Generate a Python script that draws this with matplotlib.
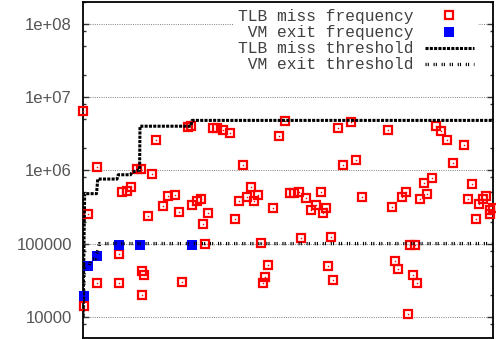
import matplotlib
matplotlib.use("Agg")
import matplotlib.pyplot as plt
from matplotlib.ticker import FixedLocator, LogLocator, NullFormatter

# sample position (0-100) and measured frequency per sample
tlb_x = [0.1, 0.3, 1.3, 3.3, 3.5, 8.8, 8.8, 9.5, 10.7, 11.8,
         13.2, 14.1, 14.3, 14.9, 14.3, 15.9, 16.8, 17.9, 19.5, 20.7,
         22.4, 23.4, 24.1, 25.6, 26.4, 26.7, 27.7, 28.7, 29.3, 29.8,
         30.4, 31.7, 32.7, 34.1, 35.9, 37.1, 38.0, 39.1, 40.0, 41.0,
         41.8, 42.8, 43.4, 44.0, 44.4, 45.2, 46.3, 47.9, 49.3, 50.5,
         51.5, 52.7, 53.2, 54.4, 55.6, 56.8, 58.0, 58.6, 59.3, 59.8,
         60.4, 60.9, 62.3, 63.5, 65.4, 66.6, 68.0, 74.5, 75.4, 76.1,
         76.8, 77.8, 78.8, 79.3, 79.8, 81.0, 80.5, 81.5, 82.2, 83.2,
         84.0, 85.0, 86.1, 87.2, 88.9, 90.2, 92.9, 94.0, 94.9, 95.9,
         96.6, 97.6, 98.3, 99.3, 99.3, 100.0]
tlb_freq = [6.5e6, 1.4e4, 2.5e5, 1.1e6, 2.9e4, 7.3e4, 2.9e4, 5.1e5, 5.2e5, 6.0e5,
            1.05e6, 1.05e6, 4.2e4, 3.7e4, 2.0e4, 2.4e5, 9.0e5, 2.6e6, 3.3e5, 4.5e5,
            4.6e5, 2.7e5, 3.0e4, 3.9e6, 4.0e6, 3.4e5, 3.8e5, 4.1e5, 1.85e5, 1.0e5,
            2.6e5, 3.8e6, 3.8e6, 3.5e6, 3.2e6, 2.2e5, 3.8e5, 1.2e6, 4.3e5, 5.9e5,
            3.8e5, 4.6e5, 1.03e5, 2.9e4, 3.5e4, 5.1e4, 3.1e5, 2.9e6, 4.7e6, 4.9e5,
            4.9e5, 5.0e5, 1.2e5, 4.2e5, 2.9e5, 3.4e5, 5.1e5, 2.6e5, 3.1e5, 5.0e4,
            1.24e5, 3.2e4, 3.8e6, 1.2e6, 4.6e6, 1.4e6, 4.3e5, 3.5e6, 3.2e5, 5.8e4,
            4.5e4, 4.3e5, 5.1e5, 1.1e4, 9.6e4, 9.6e4, 3.7e4, 2.9e4, 4.0e5, 6.8e5,
            4.8e5, 7.9e5, 4.0e6, 3.4e6, 2.6e6, 1.27e6, 2.2e6, 4.0e5, 6.6e5, 2.2e5,
            3.5e5, 4.0e5, 4.5e5, 2.9e5, 2.5e5, 3.1e5]

vm_x = [0.2, 1.3, 3.3, 8.8, 14.0, 26.6]
vm_freq = [1.9e4, 4.9e4, 6.8e4, 9.6e4, 9.6e4, 9.6e4]

tlb_thr_x = [0.0, 0.4, 3.3, 3.6, 8.3, 8.6, 11.6, 11.9, 13.4, 13.8, 13.9, 26.3, 26.6, 100.0]
tlb_thr = [1.0e4, 4.8e5, 4.8e5, 7.6e5, 7.6e5, 8.7e5, 8.7e5, 9.4e5, 1.0e6, 1.0e6,
           4.0e6, 4.0e6, 4.8e6, 4.8e6]

vm_thr_x = [0.0, 0.4, 1.5, 2.0, 3.0, 3.2, 3.8, 4.0, 100.0]
vm_thr = [1.0e4, 5.0e4, 5.0e4, 6.2e4, 6.2e4, 7.0e4, 8.5e4, 1.0e5, 1.0e5]

ytick_vals = [1e4, 1e5, 1e6, 1e7, 1e8]
ytick_labels = ["10000", "100000", "1e+06", "1e+07", "1e+08"]

series_labels = ["TLB miss frequency", " VM exit frequency",
                 "TLB miss threshold", " VM exit threshold"]

plt.rcParams["lines.scale_dashes"] = False

fig = plt.figure(figsize=(4.96, 3.39), dpi=100)
ax = fig.add_axes([83 / 496, 1 - 338.3 / 339, 410 / 496, 336.6 / 339])

sq, = ax.plot(tlb_x, tlb_freq, ls="none", marker="s", ms=5.8, mfc="none",
              mec="#ff0000", mew=1.6, clip_on=False, zorder=3)
# small centre dot inside each open square
ax.plot(tlb_x, tlb_freq, ls="none", marker="s", ms=1.0, mfc="#ff0000",
        mec="none", clip_on=False, zorder=3)
vm, = ax.plot(vm_x, vm_freq, ls="none", marker="s", ms=7.2, mfc="#0000ff",
              mew=0, clip_on=False, zorder=4)
thr1, = ax.plot(tlb_thr_x, tlb_thr, color="black", lw=2.2, dashes=[2.2, 0.9], zorder=5)
thr2, = ax.plot(vm_thr_x, vm_thr, color="black", lw=2.4,
                dashes=[0.8, 0.8, 0.8, 3.4], zorder=5)

ax.set_yscale("log")
ax.set_xlim(0, 100)
ax.set_ylim(5.1e3, 2.0e8)

ax.yaxis.set_major_locator(FixedLocator(ytick_vals))
ax.set_yticklabels(ytick_labels, family="Liberation Sans", fontsize=12, color="#555555")
ax.yaxis.set_minor_locator(LogLocator(base=10, subs=[2, 5, 8]))
ax.yaxis.set_minor_formatter(NullFormatter())
ax.tick_params(axis="y", which="both", direction="in", left=True, right=True,
               color="#333333", width=1)
ax.tick_params(axis="y", which="major", length=4, pad=8)
ax.tick_params(axis="y", which="minor", length=2.2)
ax.tick_params(axis="x", bottom=False, labelbottom=False)

ax.yaxis.grid(True, which="major", color="#888888", lw=0.75, dashes=[0.72, 0.9])
ax.set_axisbelow(True)
for sp in ax.spines.values():
    sp.set_linewidth(1.3)

leg = ax.legend([sq, vm, thr1, thr2], series_labels,
                loc="upper right", bbox_to_anchor=(1.0, 1.036),
                markerfirst=False, numpoints=1,
                handlelength=3.0, handletextpad=0.67, labelspacing=0.07,
                borderpad=0.3, borderaxespad=0.9, fancybox=False,
                prop={"family": "Liberation Mono", "size": 11.7})
leg.get_frame().set_facecolor("white")
leg.get_frame().set_edgecolor("none")
leg.get_frame().set_alpha(1)
for t in leg.get_texts():
    t.set_color("#404040")

fig.savefig("out.png", dpi=100)
